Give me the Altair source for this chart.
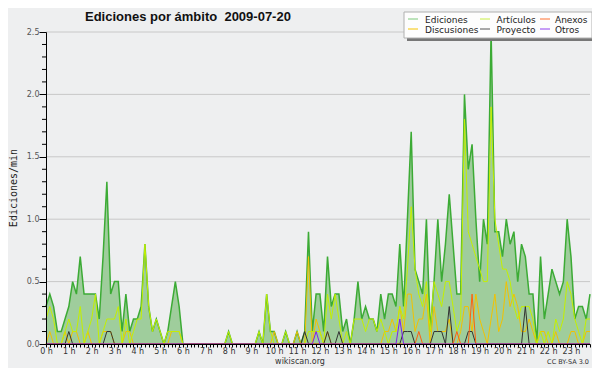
import altair as alt
import pandas as pd

# ---------------- data (10-minute bins, edits per minute) ----------------
minutes = list(range(0, 1440, 10))

ediciones = [
    0.3, 0.4, 0.3, 0.1, 0.1, 0.2, 0.3, 0.5, 0.4, 0.7,
    0.4, 0.4, 0.4, 0.4, 0.2, 0.7, 1.3, 0.4, 0.5, 0.5,
    0.1, 0.4, 0.1, 0.2, 0.2, 0.3, 0.8, 0.3, 0.1, 0.2,
    0.1, 0.0, 0.1, 0.3, 0.5, 0.3, 0.0, 0.0, 0.0, 0.0,
    0.0, 0.0, 0.0, 0.0, 0.0, 0.0, 0.0, 0.0, 0.1, 0.0,
    0.0, 0.0, 0.0, 0.0, 0.0, 0.0, 0.1, 0.0, 0.4, 0.1,
    0.1, 0.0, 0.0, 0.1, 0.0, 0.0, 0.1, 0.0, 0.1, 0.9,
    0.1, 0.4, 0.4, 0.1, 0.7, 0.3, 0.4, 0.4, 0.1, 0.2,
    0.0, 0.2, 0.5, 0.2, 0.3, 0.2, 0.2, 0.1, 0.4, 0.2,
    0.4, 0.4, 0.3, 0.8, 0.3, 1.0, 1.7, 0.6, 0.5, 0.4,
    1.0, 0.1, 0.5, 1.0, 0.5, 0.8, 1.2, 0.8, 0.4, 0.4,
    2.0, 1.4, 1.6, 1.0, 0.5, 1.0, 0.8, 2.5, 0.9, 0.9,
    0.7, 1.0, 0.8, 0.9, 0.5, 0.8, 0.7, 0.4, 0.4, 0.0,
    0.7, 0.2, 0.4, 0.6, 0.5, 0.4, 0.5, 1.0, 0.7, 0.2,
    0.3, 0.3, 0.2, 0.4,
]

articulos = [
    0.2, 0.3, 0.2, 0.0, 0.0, 0.1, 0.2, 0.1, 0.1, 0.3,
    0.0, 0.1, 0.2, 0.4, 0.0, 0.1, 0.2, 0.2, 0.2, 0.3,
    0.0, 0.2, 0.0, 0.1, 0.2, 0.2, 0.8, 0.3, 0.1, 0.2,
    0.1, 0.0, 0.1, 0.1, 0.1, 0.1, 0.0, 0.0, 0.0, 0.0,
    0.0, 0.0, 0.0, 0.0, 0.0, 0.0, 0.0, 0.0, 0.1, 0.0,
    0.0, 0.0, 0.0, 0.0, 0.0, 0.0, 0.1, 0.0, 0.4, 0.1,
    0.0, 0.0, 0.0, 0.1, 0.0, 0.0, 0.0, 0.0, 0.0, 0.1,
    0.1, 0.1, 0.1, 0.0, 0.4, 0.2, 0.4, 0.2, 0.0, 0.1,
    0.0, 0.2, 0.2, 0.2, 0.1, 0.2, 0.2, 0.1, 0.2, 0.1,
    0.0, 0.1, 0.1, 0.3, 0.2, 0.6, 1.1, 0.6, 0.4, 0.3,
    0.5, 0.1, 0.5, 0.4, 0.3, 0.5, 0.5, 0.3, 0.1, 0.2,
    1.8, 0.9, 0.8, 0.7, 0.6, 0.5, 0.5, 1.9, 1.0, 0.8,
    0.6, 0.6, 0.5, 0.3, 0.2, 0.3, 0.3, 0.3, 0.2, 0.0,
    0.1, 0.0, 0.1, 0.0, 0.2, 0.1, 0.2, 0.5, 0.4, 0.2,
    0.1, 0.0, 0.2, 0.2,
]

discusiones = [
    0.0, 0.1, 0.0, 0.0, 0.0, 0.1, 0.0, 0.1, 0.1, 0.0,
    0.0, 0.1, 0.0, 0.0, 0.0, 0.1, 0.1, 0.1, 0.0, 0.0,
    0.0, 0.1, 0.1, 0.0, 0.0, 0.0, 0.0, 0.0, 0.0, 0.0,
    0.0, 0.0, 0.0, 0.1, 0.1, 0.1, 0.0, 0.0, 0.0, 0.0,
    0.0, 0.0, 0.0, 0.0, 0.0, 0.0, 0.0, 0.0, 0.0, 0.0,
    0.0, 0.0, 0.0, 0.0, 0.0, 0.0, 0.0, 0.0, 0.0, 0.0,
    0.1, 0.0, 0.0, 0.0, 0.0, 0.0, 0.1, 0.0, 0.0, 0.7,
    0.0, 0.2, 0.1, 0.0, 0.1, 0.0, 0.0, 0.0, 0.0, 0.0,
    0.0, 0.0, 0.0, 0.0, 0.0, 0.0, 0.0, 0.0, 0.0, 0.1,
    0.1, 0.2, 0.1, 0.3, 0.1, 0.4, 0.4, 0.1, 0.2, 0.2,
    0.4, 0.0, 0.3, 0.1, 0.1, 0.1, 0.2, 0.0, 0.0, 0.1,
    0.3, 0.3, 0.1, 0.4, 0.2, 0.1, 0.0, 0.2, 0.4, 0.1,
    0.2, 0.5, 0.3, 0.4, 0.3, 0.1, 0.1, 0.2, 0.1, 0.0,
    0.1, 0.1, 0.0, 0.0, 0.1, 0.0, 0.0, 0.0, 0.1, 0.1,
    0.0, 0.0, 0.1, 0.1,
]

proyecto = [0.0] * 144
for k, v in {6: 0.1, 16: 0.1, 17: 0.1, 68: 0.1, 74: 0.1, 77: 0.1,
             94: 0.1, 95: 0.1, 96: 0.1, 102: 0.1, 103: 0.1, 104: 0.1,
             106: 0.3, 111: 0.1, 112: 0.1, 126: 0.3}.items():
    proyecto[k] = v

anexos = [0.0] * 144
for k, v in {98: 0.1, 108: 0.1, 112: 0.4}.items():
    anexos[k] = v

otros = [0.0] * 144
for k, v in {71: 0.1, 93: 0.2}.items():
    otros[k] = v

x_tick_minutes = list(range(0, 1440, 10))
y_major = [0.0, 0.5, 1.0, 1.5, 2.0, 2.5]
y_minor = [0.1, 0.2, 0.3, 0.4, 0.6, 0.7, 0.8, 0.9, 1.1, 1.2, 1.3, 1.4,
           1.6, 1.7, 1.8, 1.9, 2.1, 2.2, 2.3, 2.4]
grid_values = [0.5, 1.0, 1.5, 2.0, 2.5]

legend_labels = ["Ediciones", "Discusiones", "Artículos", "Proyecto", "Anexos", "Otros"]
legend_colors = ["#7cc97a", "#f5c400", "#c8ee44", "#555555", "#ff7030", "#9040f0"]

title_text = "Ediciones por ámbito\u00a0 2009-07-20"
y_title = "Ediciones/min"
footer_left = "wikiscan.org"
footer_right = "CC BY-SA 3.0"

# ---------------- build ----------------
df = pd.DataFrame({
    "t": [m / 60 for m in minutes],
    "ediciones": ediciones,
    "articulos": articulos,
    "discusiones": discusiones,
    "proyecto": proyecto,
    "anexos": anexos,
    "otros": otros,
})

W, H = 544, 312
xscale = alt.Scale(domain=[0, minutes[-1] / 60], nice=False, zero=False)
yscale = alt.Scale(domain=[0, 2.5], nice=False)

FONT = "DejaVu Sans"

x_axis = alt.Axis(
    values=[m / 60 for m in x_tick_minutes],
    labelExpr="datum.value % 1 === 0 ? datum.value + ' h' : ''",
    tickSize=3, labelPadding=0, labelFontSize=8, labelFont=FONT,
    labelColor="#333333", domainColor="#000000", tickColor="#000000",
    grid=False, title=None, zindex=1, labelOverlap=False, labelFlush=False,
    labelAngle=0, domainWidth=1, tickWidth=1,
)
y_axis = alt.Axis(
    values=y_major, format=".1f", tickSize=7, labelPadding=0,
    labelFontSize=8, labelFont=FONT, labelColor="#555555",
    domainColor="#000000", tickColor="#000000", grid=False, title=None,
    zindex=1, labelOverlap=False, domainWidth=1, tickWidth=1,
)

X = alt.X("t:Q", scale=xscale, axis=x_axis, title=None)

grid = alt.Chart(pd.DataFrame({"v": grid_values})).mark_rule(
    color="#c8c8c8", strokeWidth=1
).encode(y=alt.Y("v:Q", scale=yscale, axis=y_axis, title=None))

minor = alt.Chart(pd.DataFrame({"v": y_minor})).mark_rule(
    color="#000000", strokeWidth=1
).encode(y=alt.Y("v:Q", scale=yscale, axis=y_axis, title=None),
         x=alt.value(-4), x2=alt.value(0))

area = alt.Chart(df).mark_area(
    color="#9fcd9c", opacity=1, interpolate="linear",
    line={"color": "#3cab35", "strokeWidth": 1.5},
).encode(
    x=X,
    y=alt.Y("ediciones:Q", scale=yscale, axis=y_axis, title=None),
)

def series(field, color, width=1.0):
    return alt.Chart(df).mark_line(color=color, strokeWidth=width, interpolate="linear").encode(
        x=X,
        y=alt.Y(f"{field}:Q", scale=yscale, axis=y_axis, title=None),
    )

lines = [
    series("discusiones", "#f2c200"),
    series("articulos", "#c4f000"),
    series("proyecto", "#333333"),
    series("anexos", "#ff6010"),
    series("otros", "#8020ee"),
]

one = pd.DataFrame({"a": [0]})

title = alt.Chart(one).mark_text(
    text=title_text, font="Liberation Sans", fontWeight="bold", fontSize=13,
    align="left", baseline="alphabetic", color="#111111",
).encode(x=alt.value(39), y=alt.value(-11.5))

ylab = alt.Chart(one).mark_text(
    text=y_title, font="DejaVu Sans Mono", fontSize=10, angle=270,
    align="center", baseline="middle", color="#222222",
).encode(x=alt.value(-32), y=alt.value(156))

foot1 = alt.Chart(one).mark_text(
    text=footer_left, font=FONT, fontSize=8, align="center",
    baseline="alphabetic", color="#333333",
).encode(x=alt.value(254), y=alt.value(331.5))

foot2 = alt.Chart(one).mark_text(
    text=footer_right, font=FONT, fontSize=6.5, align="right",
    baseline="alphabetic", color="#333333",
).encode(x=alt.value(543), y=alt.value(331.5))

# legend box
shadow = alt.Chart(one).mark_rect(color="#777777").encode(
    x=alt.value(361), x2=alt.value(549), y=alt.value(-17), y2=alt.value(9))
box = alt.Chart(one).mark_rect(color="#fdfdfd", stroke="#b0b0b0", strokeWidth=1).encode(
    x=alt.value(358), x2=alt.value(546), y=alt.value(-20), y2=alt.value(6))

legend_layers = []
col_sw = [362, 434, 494]
col_tx = [379, 450.5, 509]
row_sw = [-13, -3]
row_tx = [-9.3, 0.7]
for n, (lab, colr) in enumerate(zip(legend_labels, legend_colors)):
    c, r = n // 2, n % 2
    legend_layers.append(
        alt.Chart(one).mark_rule(color=colr, strokeWidth=1).encode(
            x=alt.value(col_sw[c]), x2=alt.value(col_sw[c] + 10), y=alt.value(row_sw[r]))
    )
    legend_layers.append(
        alt.Chart(one).mark_text(
            text=lab, font=FONT, fontSize=9, align="left", baseline="alphabetic",
            color="#222222",
        ).encode(x=alt.value(col_tx[c]), y=alt.value(row_tx[r]))
    )

chart = alt.layer(
    grid, area, *lines, minor, title, ylab, foot1, foot2, shadow, box, *legend_layers
).properties(
    width=W, height=H,
    background="#eeeff0",
    padding={"left": 38, "top": 24, "right": 2, "bottom": 24},
    autosize=alt.AutoSizeParams(type="none"),
).configure_view(stroke=None)

chart.save("out.html", embed_options={"renderer": "svg", "actions": False})
